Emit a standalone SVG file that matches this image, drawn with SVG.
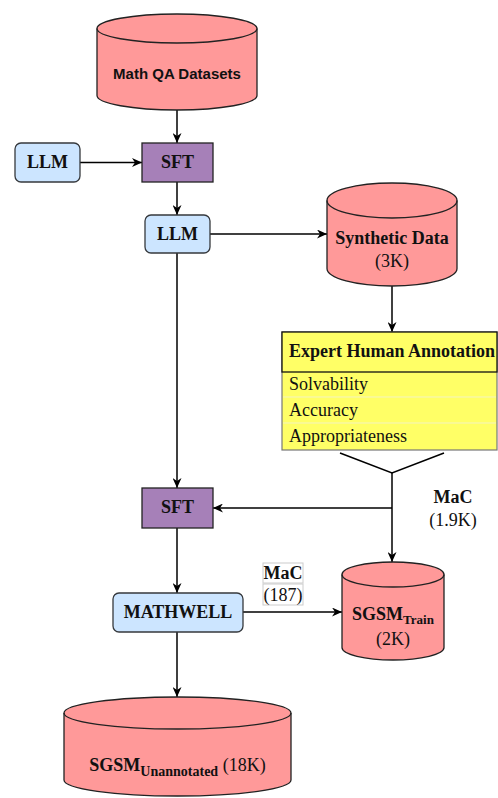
<svg xmlns="http://www.w3.org/2000/svg" width="498" height="798" viewBox="0 0 498 798">
<defs>
<marker id="arr" markerWidth="11" markerHeight="9" refX="10" refY="4.5" orient="auto" markerUnits="userSpaceOnUse">
<path d="M0,0 L10,4.5 L0,9 L3,4.5 Z" fill="#000"/>
</marker>
<style>
.cyl{fill:#ff9999;stroke:#222;stroke-width:1.3}
.cap{fill:none;stroke:#222;stroke-width:1.3}
.llm{fill:#cce5ff;stroke:#36393d;stroke-width:1.3}
.sft{fill:#a680b8;stroke:#222;stroke-width:1.3}
.t{font-family:"Liberation Serif","Times New Roman",serif;font-size:18px;fill:#111}
.b{font-weight:bold}
.s{font-family:"Liberation Sans",Arial,sans-serif;font-size:15px;font-weight:bold;fill:#111}
.c{stroke:#000;stroke-width:1.5;fill:none}
</style>
</defs>
<g id="connectors">
<line class="c" x1="177" y1="110" x2="177" y2="143" marker-end="url(#arr)"/>
<line class="c" x1="80" y1="162.5" x2="142" y2="162.5" marker-end="url(#arr)"/>
<line class="c" x1="177" y1="182" x2="177" y2="215" marker-end="url(#arr)"/>
<line class="c" x1="210" y1="234" x2="327" y2="234" marker-end="url(#arr)"/>
<line class="c" x1="392" y1="286" x2="392" y2="332" marker-end="url(#arr)"/>
<polyline class="c" points="340,453 392,473 444,453"/>
<line class="c" x1="392" y1="473" x2="392" y2="562" marker-end="url(#arr)"/>
<line class="c" x1="392" y1="508" x2="213" y2="508" marker-end="url(#arr)"/>
<line class="c" x1="177" y1="253" x2="177" y2="488" marker-end="url(#arr)"/>
<line class="c" x1="177" y1="528" x2="177" y2="593" marker-end="url(#arr)"/>
<line class="c" x1="243" y1="612" x2="342" y2="612" marker-end="url(#arr)"/>
<line class="c" x1="177" y1="632" x2="177" y2="697" marker-end="url(#arr)"/>
<text class="t b" x="453" y="503" text-anchor="middle">MaC</text>
<text class="t" x="453" y="526" text-anchor="middle">(1.9K)</text>
<rect x="263" y="563" width="40" height="20" fill="#fff" stroke="#ccc" stroke-width="1"/>
<rect x="263" y="584" width="40" height="21" fill="#fff" stroke="#ccc" stroke-width="1"/>
<text class="t b" x="283" y="579" text-anchor="middle">MaC</text>
<text class="t" x="283" y="601" text-anchor="middle">(187)</text>
</g>
<g id="mathqa">
<path class="cyl" d="M97,28.5 A80,14.5 0 0 1 257,28.5 V95.5 A80,14.5 0 0 1 97,95.5 Z"/>
<path class="cap" d="M97,28.5 A80,14.5 0 0 0 257,28.5"/>
<text class="s" x="177" y="79" text-anchor="middle">Math QA Datasets</text>
</g>
<g id="llm1">
<rect class="llm" x="15" y="143" width="65" height="39" rx="6"/>
<text class="t b" x="47.5" y="168" text-anchor="middle">LLM</text>
</g>
<g id="sft1">
<rect class="sft" x="142" y="143" width="71" height="39"/>
<text class="t b" x="177.5" y="168" text-anchor="middle">SFT</text>
</g>
<g id="llm2">
<rect class="llm" x="145" y="215" width="65" height="38" rx="6"/>
<text class="t b" x="177.5" y="240" text-anchor="middle">LLM</text>
</g>
<g id="synthetic">
<path class="cyl" d="M327,200.5 A65,17.5 0 0 1 457,200.5 V268.5 A65,17.5 0 0 1 327,268.5 Z"/>
<path class="cap" d="M327,200.5 A65,17.5 0 0 0 457,200.5"/>
<text class="t b" x="392" y="244" text-anchor="middle">Synthetic Data</text>
<text class="t" x="392" y="267" text-anchor="middle">(3K)</text>
</g>
<g id="annotation">
<rect x="282" y="332" width="215" height="118" fill="#ffff66" stroke="#777" stroke-width="1.2"/>
<rect x="282" y="332" width="215" height="40" fill="#ffff66" stroke="#111" stroke-width="1.3"/>
<line x1="283" y1="397" x2="496" y2="397" stroke="#f4f4c0" stroke-width="1"/>
<line x1="283" y1="423" x2="496" y2="423" stroke="#f4f4c0" stroke-width="1"/>
<text class="t b" x="289" y="357">Expert Human Annotation</text>
<text class="t" x="289" y="390">Solvability</text>
<text class="t" x="289" y="416">Accuracy</text>
<text class="t" x="289" y="442">Appropriateness</text>
</g>
<g id="sft2">
<rect class="sft" x="142" y="488" width="71" height="40"/>
<text class="t b" x="177.5" y="513" text-anchor="middle">SFT</text>
</g>
<g id="mathwell">
<rect class="llm" x="113" y="593" width="130" height="39" rx="6"/>
<text class="t b" x="178" y="618" text-anchor="middle">MATHWELL</text>
</g>
<g id="sgsm-train">
<path class="cyl" d="M342,574.5 A51,12.5 0 0 1 444,574.5 V647.5 A51,12.5 0 0 1 342,647.5 Z"/>
<path class="cap" d="M342,574.5 A51,12.5 0 0 0 444,574.5"/>
<text class="t b" x="393" y="620" text-anchor="middle">SGSM<tspan font-size="13" dy="4">Train</tspan></text>
<text class="t" x="393" y="645" text-anchor="middle">(2K)</text>
</g>
<g id="sgsm-unannotated">
<path class="cyl" d="M64,713 A113.5,16 0 0 1 291,713 V780 A113.5,16 0 0 1 64,780 Z"/>
<path class="cap" d="M64,713 A113.5,16 0 0 0 291,713"/>
<text class="t" x="177.5" y="771" text-anchor="middle"><tspan class="b">SGSM</tspan><tspan class="b" font-size="14" dy="5">Unannotated</tspan><tspan dy="-5"> (18K)</tspan></text>
</g>
</svg>
